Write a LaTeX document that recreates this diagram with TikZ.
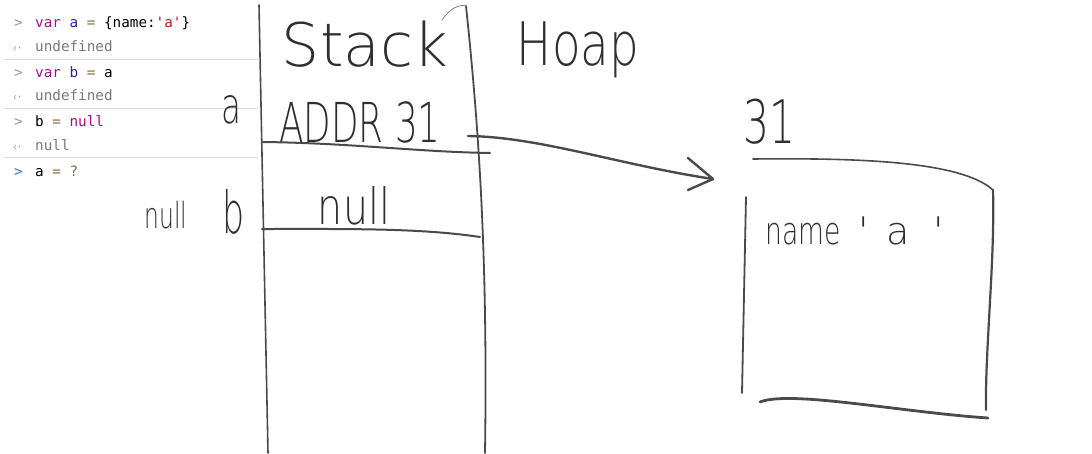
\documentclass[tikz,border=0pt]{standalone}
\usepackage{fontspec}
\setmainfont{Liberation Sans}
\newfontfamily\conmono{DejaVu Sans Mono}
\newfontfamily\hand{DejaVu Sans ExtraLight}
\definecolor{kw}{HTML}{AA0D91}
\definecolor{vr}{HTML}{2A1FB0}
\definecolor{op}{HTML}{8C6C3C}
\definecolor{st}{HTML}{C41A16}
\definecolor{res}{HTML}{7A7A7A}
\definecolor{pr}{HTML}{9A9A9A}
\definecolor{prb}{HTML}{2D7FD6}
\definecolor{sep}{HTML}{DCDCDC}
\definecolor{ink}{HTML}{4A4A4A}
\definecolor{inktext}{HTML}{2E2E2E}
\tikzset{
  con/.style={anchor=base west, inner sep=0pt, font=\conmono\fontsize{14.3}{16}\selectfont},
  prompt/.style={anchor=base west, inner sep=0pt, text=pr, font=\conmono\fontsize{14.3}{16}\selectfont},
  back/.style={anchor=base west, inner sep=0pt, text=pr, font=\conmono\fontsize{10}{12}\selectfont},
  seprule/.style={draw=sep, line width=1pt},
  pen/.style={draw=ink, line width=2pt, line cap=round, line join=round},
  penthin/.style={draw=ink!70, line width=1.2pt, line cap=round},
  hw/.style={text=inktext, inner sep=0pt},
}
\begin{document}
\begin{tikzpicture}[x=1pt,y=-1pt]
\useasboundingbox (0,0) rectangle (1092,453);
\fill[white] (0,0) rectangle (1092,453);
% console
\node[prompt] (p1) at (14,27) {>};
\node[con] (c1) at (35,27) {\textcolor{kw}{var} \textcolor{vr}{a} \textcolor{op}{=} \{name:\textcolor{st}{'a'}\}};
\node[back] (r1p) at (12,51) {‹\kern-1.5pt·};
\node[con, text=res] (r1) at (35,51) {undefined};
\coordinate (s1a) at (4,59); \coordinate (s1b) at (258,59);
\draw[seprule] (s1a) -- (s1b);
\node[prompt] (p2) at (14,77) {>};
\node[con] (c2) at (35,77) {\textcolor{kw}{var} \textcolor{vr}{b} \textcolor{op}{=} a};
\node[back] (r2p) at (12,100) {‹\kern-1.5pt·};
\node[con, text=res] (r2) at (35,100) {undefined};
\coordinate (s2a) at (4,108); \coordinate (s2b) at (258,108);
\draw[seprule] (s2a) -- (s2b);
\node[prompt] (p3) at (14,126) {>};
\node[con] (c3) at (35,126) {b \textcolor{op}{=} \textcolor{kw}{null}};
\node[back] (r3p) at (12,150) {‹\kern-1.5pt·};
\node[con, text=res] (r3) at (35,150) {null};
\coordinate (s3a) at (4,157); \coordinate (s3b) at (258,157);
\draw[seprule] (s3a) -- (s3b);
\node[prompt, text=prb] (p4) at (14,176) {>};
\node[con] (c4) at (35,176) {a \textcolor{op}{=} \textcolor{op}{?}};

% stack column lines
\coordinate (slt) at (259,5); \coordinate (slb) at (268,453);
\draw[pen, line width=1.6pt] (slt) -- (slb);
\coordinate (srt) at (466,6); \coordinate (srb) at (485,453);
\draw[pen, line width=1.8pt] (srt) .. controls (478,120) and (488,250) .. (srb);
\coordinate (hk1) at (442,20);
\draw[penthin, line width=0.8pt] (hk1) .. controls (450,8) and (460,4) .. (srt);

% headings
\node[hw, font=\hand\fontsize{60}{60}\selectfont] (stack) at (365,44) {Stack};
\node[hw, font=\hand\fontsize{60}{60}\selectfont, xscale=0.78] (heap) at (578,50) {Hoap};

% stack rows
\node[hw, font=\hand\fontsize{55}{55}\selectfont, xscale=0.65] (addr) at (360,122) {ADDR 31};
\coordinate (r1a) at (263,142); \coordinate (r1b) at (490,153);
\draw[pen] (r1a) .. controls (350,143) and (420,152) .. (r1b);
\node[hw, font=\hand\fontsize{50}{50}\selectfont, xscale=0.65] (va) at (231,110) {a};
\node[hw, font=\hand\fontsize{50}{50}\selectfont, xscale=0.79] (nul) at (354,206) {null};
\coordinate (r2a) at (262,229); \coordinate (r2b) at (480,237);
\draw[pen] (r2a) .. controls (350,229) and (420,228) .. (r2b);
\node[hw, font=\hand\fontsize{58}{58}\selectfont, xscale=0.6] (vb) at (234,212) {b};
\node[hw, font=\hand\fontsize{36}{36}\selectfont, xscale=0.65] (nulsmall) at (166,215) {null};

% arrow
\coordinate (ar0) at (468,136);
\coordinate (tip) at (713,179);
\draw[pen, line width=2.4pt] (ar0) .. controls (540,137) and (620,165) .. (tip);
\coordinate (ah1) at (688,158); \coordinate (ah2) at (688,190);
\draw[pen, line width=2.4pt] (ah1) -- (tip) -- (ah2);

% heap object
\node[hw, font=\hand\fontsize{60}{60}\selectfont, xscale=0.68] (n31) at (769,122) {31};
\coordinate (bt1) at (753,159); \coordinate (bt2) at (993,190);
\draw[pen, line width=1.6pt] (bt1) .. controls (850,158) and (960,160) .. (bt2);
\coordinate (br2) at (986,410);
\draw[pen, line width=2.2pt] (bt2) .. controls (995,260) and (985,350) .. (br2);
\coordinate (bl1) at (746,197); \coordinate (bl2) at (742,393);
\draw[pen, line width=1.8pt] (bl1) -- (bl2);
\coordinate (bb1) at (760,402); \coordinate (bb2) at (988,418);
\draw[pen, line width=2.8pt] (bb1) .. controls (790,390) and (900,412) .. (bb2);
\node[hw, font=\hand\fontsize{38}{38}\selectfont, xscale=0.7, anchor=base west] (nm) at (765,244) {name};
\node[hw, font=\hand\fontsize{38}{38}\selectfont, anchor=base west] (val) at (858,244) {'\hspace{18pt}a\hspace{24pt}'};
\end{tikzpicture}
\end{document}
